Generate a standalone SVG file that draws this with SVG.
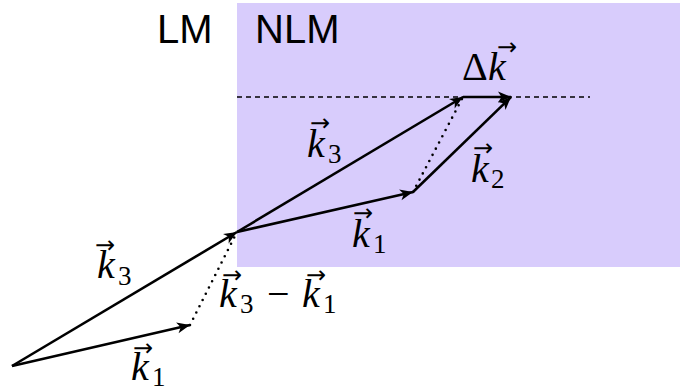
<svg xmlns="http://www.w3.org/2000/svg" width="680" height="391" viewBox="0 0 680 391">
<style>
.v{stroke:#000;stroke-width:2.6;fill:none;marker-end:url(#ah)}
.dot{stroke:#000;stroke-width:2.6;fill:none;stroke-dasharray:0 7;stroke-linecap:round}
.dash{stroke:#000;stroke-width:1.6;fill:none;stroke-dasharray:5 4}
.lab{font-size:40px;fill:#000}
.m{font-size:40px;fill:#000}
.i{font-style:italic}
.s{font-size:27px}
.ar{font-size:24px;font-family:"DejaVu Sans",sans-serif}
</style>
<defs>
<marker id="ah" markerUnits="userSpaceOnUse" viewBox="-14 -6 15 12" refX="0" refY="0" markerWidth="15" markerHeight="12" orient="auto">
<path d="M-13,-5.5 L0,0 L-13,5.5 L-9.5,0 z" fill="#000"/>
</marker>
</defs>
<rect id="nlm-region" x="237" y="3" width="443" height="264" fill="#d8ccfc"/>
<g id="labels-regions" font-family="Liberation Sans, Arial, sans-serif">
<text class="lab" x="157" y="43">LM</text>
<text class="lab" x="255" y="43">NLM</text>
</g>
<g id="connectors">
<line class="dash" x1="237" y1="97" x2="590" y2="97"/>
<line class="dot" x1="190" y1="325" x2="237" y2="232"/>
<line class="dot" x1="413" y1="192" x2="463" y2="97"/>
<line class="v" x1="12" y1="366" x2="190" y2="325"/>
<line class="v" x1="12" y1="366" x2="237" y2="232"/>
<line class="v" x1="237" y1="232" x2="413" y2="192"/>
<line class="v" x1="237" y1="232" x2="463" y2="97"/>
<line class="v" x1="413" y1="192" x2="511" y2="97"/>
<line class="v" x1="463" y1="97" x2="511" y2="97"/>
</g>
<g id="math-labels" font-family="Liberation Serif, Times New Roman, serif">
<g id="label-k3-low">
<text class="m"><tspan class="i" x="97" y="278">k</tspan><tspan class="s" x="118" y="285">3</tspan><tspan class="ar" x="95" y="253">→</tspan></text>
</g>
<g id="label-k1-low">
<text class="m"><tspan class="i" x="131" y="380">k</tspan><tspan class="s" x="152" y="386">1</tspan><tspan class="ar" x="133" y="356">→</tspan></text>
</g>
<g id="label-k3-minus-k1">
<text class="m"><tspan class="i" x="219" y="307">k</tspan><tspan class="s" x="240" y="313">3</tspan><tspan x="267" y="307">−</tspan><tspan class="i" x="302" y="307">k</tspan><tspan class="s" x="323" y="313">1</tspan><tspan class="ar" x="222" y="283">→</tspan><tspan class="ar" x="306" y="283">→</tspan></text>
</g>
<g id="label-k3-up">
<text class="m"><tspan class="i" x="307" y="157">k</tspan><tspan class="s" x="328" y="163">3</tspan><tspan class="ar" x="310" y="131">→</tspan></text>
</g>
<g id="label-k1-up">
<text class="m"><tspan class="i" x="352" y="247">k</tspan><tspan class="s" x="373" y="253">1</tspan><tspan class="ar" x="353" y="221">→</tspan></text>
</g>
<g id="label-k2">
<text class="m"><tspan class="i" x="471" y="182">k</tspan><tspan class="s" x="491" y="188">2</tspan><tspan class="ar" x="473" y="156">→</tspan></text>
</g>
<g id="label-delta-k">
<text class="m"><tspan x="462" y="80">Δ</tspan><tspan class="i" x="488" y="80">k</tspan><tspan class="ar" x="497" y="55">→</tspan></text>
</g>
</g>
</svg>
